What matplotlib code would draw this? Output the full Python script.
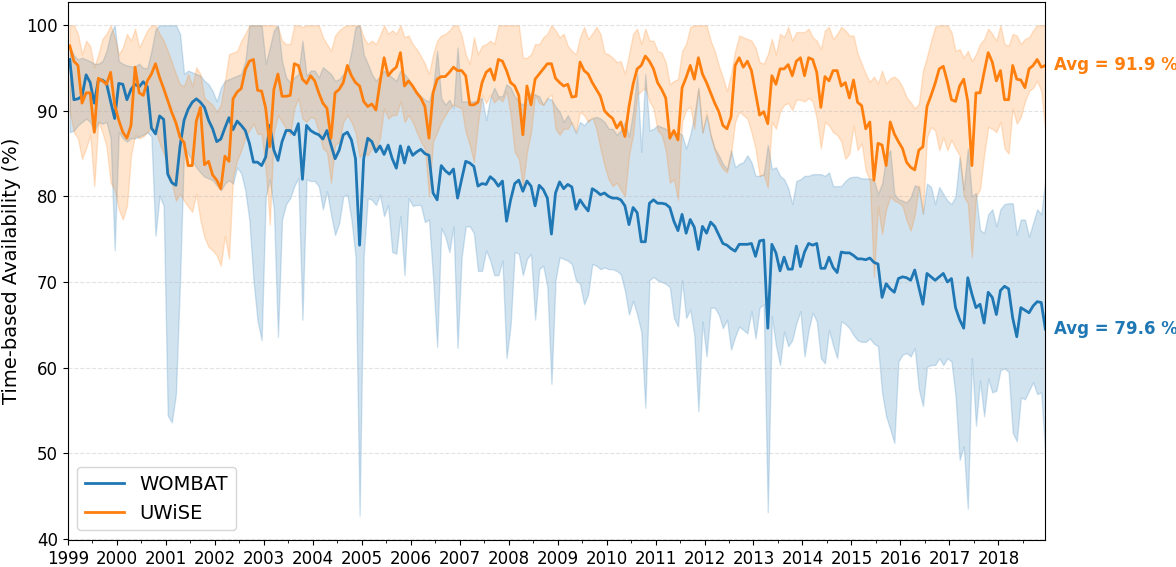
import numpy as np
import matplotlib
matplotlib.use("Agg")
import matplotlib.pyplot as plt
from matplotlib.ticker import MultipleLocator

# Monthly time-based availability (%), Jan 1999 - Dec 2018, one row per year
wombat = [
    96.0, 91.3, 91.4, 91.7, 94.2, 93.3, 90.9, 93.6, 93.6, 93.2, 91.1, 89.1,
    93.2, 93.1, 91.3, 92.5, 93.1, 92.8, 93.4, 92.8, 88.0, 87.3, 89.4, 89.0,
    82.6, 81.6, 81.3, 85.8, 88.9, 90.2, 91.0, 91.4, 91.0, 90.4, 88.9, 87.9,
    86.4, 86.7, 88.0, 89.2, 87.8, 88.8, 88.3, 87.7, 86.2, 84.0, 84.0, 83.6,
    84.6, 88.3, 85.4, 84.2, 86.4, 87.7, 87.7, 87.2, 88.5, 82.0, 88.3, 87.7,
    87.4, 87.2, 86.7, 87.7, 86.0, 84.4, 85.4, 87.2, 87.5, 86.6, 84.4, 74.3,
    84.4, 86.8, 86.4, 85.2, 85.9, 84.9, 86.0, 84.4, 83.3, 85.9, 83.9, 85.8,
    84.8, 85.2, 85.5, 85.0, 84.8, 80.4, 79.6, 83.6, 83.0, 82.6, 83.2, 79.8,
    82.0, 84.1, 83.9, 83.5, 81.2, 81.5, 81.4, 82.3, 81.9, 81.2, 81.8, 77.1,
    79.6, 81.5, 81.9, 80.6, 81.8, 81.2, 78.9, 81.3, 80.8, 79.8, 75.6, 80.4,
    81.7, 80.9, 81.4, 81.1, 78.5, 79.6, 78.9, 78.3, 80.9, 80.6, 80.2, 80.4,
    80.0, 79.8, 79.8, 79.6, 78.9, 76.7, 78.7, 78.1, 74.7, 74.7, 79.2, 79.6,
    79.2, 79.2, 79.1, 78.7, 77.1, 76.0, 77.9, 75.7, 77.3, 76.4, 73.8, 76.5,
    75.7, 77.0, 76.5, 75.5, 74.5, 74.3, 73.9, 73.6, 74.4, 74.4, 74.4, 74.5,
    73.0, 74.8, 74.9, 64.6, 74.4, 73.4, 71.3, 72.9, 71.5, 71.5, 74.2, 71.8,
    73.5, 74.5, 74.3, 74.5, 71.6, 71.6, 72.9, 71.7, 71.1, 73.5, 73.4, 73.4,
    73.1, 72.7, 72.7, 72.6, 72.8, 72.3, 72.1, 68.2, 69.8, 69.2, 68.8, 70.4,
    70.6, 70.5, 70.2, 71.4, 69.4, 67.4, 71.0, 70.6, 70.2, 70.6, 71.0, 70.0,
    70.4, 67.0, 65.6, 64.6, 70.5, 68.6, 67.0, 67.4, 65.2, 68.8, 68.2, 66.2,
    69.0, 69.5, 69.2, 65.8, 63.6, 67.0, 66.7, 66.4, 67.2, 67.7, 67.6, 64.5,
]
wombat_lo = [
    87.5, 87.7, 88.3, 88.7, 89.1, 88.7, 87.5, 88.7, 88.5, 88.7, 86.8, 73.7,
    87.5, 86.8, 86.4, 86.8, 86.8, 87.0, 87.2, 87.5, 87.0, 75.4, 80.1, 78.9,
    54.4, 53.6, 56.9, 70.0, 85.8, 85.0, 84.2, 83.4, 82.8, 82.3, 82.1, 81.9,
    81.3, 80.7, 81.5, 81.9, 81.5, 83.4, 82.7, 80.7, 77.2, 70.2, 65.5, 63.2,
    80.0, 82.0, 78.5, 63.6, 77.3, 79.1, 79.8, 81.2, 82.2, 65.6, 82.0, 81.8,
    81.8, 81.2, 78.5, 80.6, 77.9, 75.5, 76.9, 80.0, 80.2, 77.3, 73.0, 42.7,
    73.0, 79.8, 79.6, 79.0, 80.2, 77.7, 79.0, 73.5, 73.3, 77.7, 70.8, 79.8,
    78.9, 79.0, 79.0, 77.0, 77.3, 70.6, 62.4, 76.3, 75.3, 73.5, 76.5, 62.3,
    72.9, 76.5, 76.5, 75.7, 71.3, 71.3, 73.7, 72.5, 70.8, 70.8, 72.5, 61.1,
    65.0, 73.5, 73.3, 70.8, 72.7, 73.3, 65.6, 71.5, 71.9, 69.4, 58.1, 70.2,
    72.9, 72.7, 72.5, 72.1, 70.2, 69.8, 67.4, 68.6, 72.1, 71.9, 71.5, 71.7,
    71.5, 71.5, 71.3, 70.9, 69.0, 66.2, 67.8, 66.2, 64.2, 55.3, 70.2, 70.6,
    70.2, 70.0, 69.8, 69.4, 65.8, 64.8, 70.2, 65.8, 66.8, 63.8, 54.9, 65.4,
    61.3, 67.0, 67.0, 66.2, 64.6, 65.6, 62.1, 63.6, 64.8, 64.4, 64.0, 66.6,
    63.4, 67.0, 67.4, 43.1, 66.0, 62.6, 60.3, 64.2, 62.5, 63.2, 65.2, 66.6,
    61.3, 64.4, 66.4, 65.4, 61.1, 60.5, 64.4, 62.6, 61.1, 65.4, 65.1, 64.6,
    63.8, 63.2, 63.0, 63.0, 63.4, 62.8, 62.5, 57.1, 54.3, 52.8, 51.2, 60.7,
    61.5, 61.7, 61.3, 62.3, 57.5, 55.5, 60.1, 60.3, 60.3, 61.1, 60.3, 61.1,
    60.7, 56.7, 49.2, 50.8, 43.5, 61.1, 53.2, 58.5, 54.3, 58.7, 57.1, 57.3,
    59.7, 59.9, 59.5, 52.4, 51.4, 56.5, 56.3, 57.3, 58.3, 56.9, 57.1, 49.6,
]
wombat_hi = [
    97.5, 96.5, 96.0, 96.2, 96.0, 95.8, 95.5, 95.5, 95.8, 97.0, 99.0, 100.0,
    95.8, 95.5, 95.3, 95.2, 95.2, 95.5, 95.0, 95.0, 97.0, 99.5, 100.0, 100.0,
    100.0, 100.0, 100.0, 99.0, 94.3, 94.7, 94.5, 94.3, 94.1, 93.5, 93.1, 92.3,
    91.1, 92.7, 93.5, 93.7, 93.9, 94.1, 94.3, 95.8, 100.0, 100.0, 100.0, 100.0,
    95.5, 97.4, 99.4, 100.0, 95.8, 93.9, 93.3, 93.9, 94.3, 98.2, 94.1, 94.7,
    94.7, 93.9, 95.1, 94.7, 94.3, 93.5, 93.7, 94.3, 94.7, 97.0, 99.8, 100.0,
    96.6, 95.5, 94.3, 93.5, 94.1, 94.7, 94.3, 93.9, 93.5, 94.7, 94.3, 93.7,
    92.7, 92.3, 91.7, 91.3, 91.1, 92.7, 97.0, 91.5, 90.7, 91.3, 90.3, 97.4,
    91.1, 91.1, 91.1, 91.1, 91.3, 91.5, 88.9, 91.5, 92.7, 91.7, 91.7, 93.1,
    92.7, 91.7, 91.1, 90.7, 91.5, 92.1, 91.9, 91.7, 90.7, 91.5, 91.3, 90.5,
    89.9, 88.7, 89.5, 88.5, 87.4, 88.7, 88.3, 88.9, 89.1, 89.3, 89.1, 88.7,
    87.9, 87.9, 87.2, 87.7, 88.7, 87.0, 89.9, 94.3, 85.2, 94.3, 87.7, 87.9,
    88.3, 88.1, 87.9, 87.5, 87.2, 87.5, 87.2, 85.6, 87.2, 89.5, 92.7, 87.5,
    89.5, 87.2, 85.6, 84.8, 83.8, 83.2, 85.4, 83.4, 83.8, 84.0, 84.8, 84.0,
    82.4, 82.4, 82.6, 86.0, 83.2, 83.4, 82.4, 82.0, 81.0, 79.1, 81.8, 82.0,
    82.4, 82.4, 82.6, 82.6, 82.6, 82.4, 82.8, 81.2, 81.2, 81.2, 81.8, 82.2,
    82.3, 82.3, 82.1, 82.1, 82.1, 81.9, 80.3, 81.5, 84.6, 85.4, 80.3, 79.7,
    79.5, 79.3, 79.9, 81.3, 81.1, 78.0, 81.5, 81.1, 79.1, 81.1, 80.3, 79.5,
    79.1, 80.0, 84.6, 80.8, 85.6, 80.0, 80.4, 76.1, 75.7, 77.9, 78.5, 76.5,
    78.5, 79.1, 79.2, 79.2, 75.5, 77.3, 77.3, 75.3, 76.9, 78.5, 77.9, 82.0,
]

uwise = [
    97.6, 95.8, 95.3, 90.9, 92.1, 92.1, 87.5, 93.8, 93.5, 93.1, 94.5, 90.7,
    88.9, 87.5, 86.8, 88.3, 95.1, 92.1, 91.8, 93.5, 94.3, 95.5, 93.9, 92.6,
    91.2, 89.8, 88.6, 86.9, 86.3, 83.6, 83.6, 88.8, 90.4, 83.7, 84.1, 82.5,
    81.9, 80.9, 84.7, 84.1, 91.4, 92.2, 92.6, 94.8, 95.8, 96.0, 92.4, 92.3,
    90.3, 85.8, 92.5, 94.3, 91.7, 91.7, 91.8, 95.5, 95.3, 93.7, 93.2, 94.1,
    93.5, 92.1, 90.9, 90.3, 86.8, 92.1, 92.5, 93.3, 95.3, 94.1, 93.3, 92.9,
    91.1, 90.5, 90.8, 90.1, 93.3, 96.2, 94.1, 94.7, 95.1, 96.8, 92.9, 93.5,
    92.9, 92.1, 91.5, 90.5, 86.8, 92.1, 93.7, 94.0, 94.0, 94.5, 95.1, 94.7,
    94.7, 94.1, 90.7, 90.7, 91.0, 93.3, 94.5, 94.9, 93.6, 96.0, 95.8, 94.7,
    93.3, 92.9, 91.8, 87.2, 92.9, 90.7, 93.7, 94.3, 94.9, 95.5, 95.5, 93.8,
    93.3, 92.9, 93.1, 91.6, 91.7, 95.7, 94.7, 94.3, 93.3, 92.5, 91.7, 90.0,
    89.5, 89.1, 88.0, 88.7, 87.0, 90.5, 93.1, 94.9, 95.3, 96.4, 95.8, 94.9,
    93.3, 92.5, 91.5, 86.8, 87.7, 86.6, 92.7, 93.9, 95.3, 93.7, 96.2, 94.3,
    93.3, 92.1, 90.9, 89.9, 88.3, 87.9, 89.3, 95.3, 96.2, 95.1, 95.8, 94.7,
    92.1, 89.5, 89.9, 88.5, 94.1, 93.1, 94.9, 94.9, 95.4, 94.1, 95.8, 96.2,
    94.1, 96.2, 96.0, 94.5, 90.4, 94.0, 93.5, 94.7, 94.7, 92.9, 93.3, 91.5,
    93.6, 91.0, 90.6, 87.9, 88.7, 81.9, 86.2, 86.0, 83.6, 88.7, 87.3, 86.4,
    85.6, 84.0, 83.4, 83.1, 85.4, 85.8, 90.5, 91.8, 93.2, 94.9, 95.2, 93.4,
    91.3, 91.1, 92.9, 93.7, 91.1, 83.6, 92.1, 92.1, 94.5, 96.8, 95.7, 93.5,
    94.7, 91.3, 91.3, 95.3, 93.7, 93.6, 92.7, 94.9, 95.3, 96.0, 95.1, 95.3,
]
uwise_lo = [
    89.9, 87.5, 86.8, 84.4, 85.6, 87.2, 81.2, 88.7, 87.5, 85.8, 81.6, 80.8,
    78.5, 77.3, 78.9, 84.8, 87.2, 86.8, 87.0, 87.5, 88.1, 87.7, 86.2, 85.0,
    83.4, 81.5, 79.5, 80.3, 79.5, 78.8, 78.2, 80.3, 77.2, 75.2, 74.1, 73.7,
    73.1, 71.9, 75.4, 72.7, 82.3, 84.2, 85.4, 86.9, 87.7, 88.5, 87.3, 87.3,
    83.2, 76.7, 87.5, 89.5, 88.7, 87.9, 87.2, 90.3, 91.5, 89.1, 88.7, 89.3,
    89.1, 87.5, 85.6, 85.2, 81.6, 86.0, 86.4, 88.7, 89.5, 88.7, 87.5, 84.6,
    85.2, 84.8, 85.6, 85.6, 86.8, 90.3, 89.1, 89.5, 89.5, 91.1, 88.7, 89.5,
    88.7, 87.5, 86.4, 85.6, 80.0, 86.4, 87.5, 88.7, 89.5, 90.3, 90.7, 90.5,
    90.3, 87.5, 86.0, 84.0, 88.5, 91.9, 90.9, 91.9, 91.0, 91.5, 91.1, 92.3,
    89.5, 85.2, 84.4, 81.2, 85.2, 87.5, 91.9, 90.9, 90.7, 91.5, 91.9, 87.9,
    87.2, 87.9, 87.9, 88.7, 87.5, 89.9, 89.5, 88.7, 89.3, 87.9, 85.6, 83.6,
    82.0, 81.2, 81.6, 80.8, 80.0, 84.8, 87.2, 91.9, 92.3, 92.7, 91.1, 90.3,
    87.7, 87.2, 85.4, 81.6, 82.0, 79.6, 88.7, 90.1, 90.5, 87.9, 92.5, 87.4,
    89.7, 87.0, 85.4, 84.0, 83.2, 82.8, 84.9, 88.7, 89.9, 89.5, 89.1, 87.5,
    85.6, 82.4, 82.6, 81.0, 88.7, 87.9, 89.9, 90.7, 90.9, 90.1, 91.3, 91.3,
    91.1, 91.5, 91.1, 89.1, 85.6, 88.7, 88.3, 87.5, 87.2, 86.4, 84.4, 85.0,
    88.3, 85.4, 86.2, 83.0, 81.9, 70.6, 78.8, 75.6, 78.5, 80.0, 79.5, 79.3,
    78.9, 77.2, 76.0, 77.8, 81.3, 78.0, 86.9, 88.1, 87.7, 85.4, 86.9, 85.4,
    86.6, 85.6, 84.8, 80.0, 79.2, 72.9, 80.0, 80.8, 84.8, 88.1, 87.9, 87.5,
    88.7, 85.6, 85.0, 90.3, 88.5, 89.3, 91.1, 92.3, 92.7, 93.5, 92.3, 87.5,
]
uwise_hi = [
    100.0, 100.0, 99.0, 96.6, 98.2, 97.6, 95.1, 96.6, 98.4, 99.0, 100.0, 98.6,
    96.6, 97.4, 99.0, 98.2, 99.6, 97.4, 98.4, 99.4, 100.0, 100.0, 99.0, 98.2,
    97.0, 95.7, 94.3, 93.1, 92.9, 94.3, 92.9, 95.1, 94.3, 91.5, 91.1, 90.7,
    89.9, 90.7, 93.5, 96.6, 96.8, 97.0, 98.2, 99.0, 100.0, 100.0, 100.0, 100.0,
    100.0, 100.0, 100.0, 99.8, 98.2, 97.8, 97.8, 100.0, 100.0, 99.8, 100.0, 100.0,
    100.0, 100.0, 98.6, 97.8, 97.0, 98.8, 99.4, 99.8, 100.0, 100.0, 100.0, 100.0,
    98.6, 97.8, 98.2, 97.8, 98.8, 100.0, 99.0, 99.4, 99.0, 100.0, 98.6, 98.8,
    97.8, 97.2, 96.4, 95.5, 94.3, 96.6, 98.2, 98.8, 99.0, 99.4, 100.0, 100.0,
    98.8, 96.6, 95.5, 98.6, 96.6, 97.6, 97.8, 98.2, 97.8, 100.0, 100.0, 100.0,
    100.0, 100.0, 100.0, 96.2, 96.2, 96.6, 97.8, 97.8, 98.6, 99.0, 100.0, 99.4,
    98.6, 99.0, 97.6, 97.0, 96.6, 98.6, 99.8, 98.4, 99.0, 99.8, 99.0, 96.8,
    96.6, 96.2, 95.7, 95.8, 94.3, 96.6, 99.0, 99.6, 97.8, 99.6, 98.2, 98.2,
    97.0, 96.8, 95.7, 93.1, 93.5, 93.7, 97.0, 97.8, 99.8, 100.0, 100.0, 100.0,
    100.0, 98.2, 97.0, 95.3, 93.9, 92.3, 94.3, 97.0, 98.8, 98.6, 98.4, 98.2,
    97.4, 95.7, 95.5, 96.6, 98.4, 96.6, 99.0, 98.6, 99.8, 98.2, 99.2, 99.2,
    99.2, 99.6, 98.6, 98.2, 97.2, 99.4, 99.8, 98.4, 99.0, 99.8, 99.4, 98.8,
    98.8, 96.7, 95.5, 94.3, 93.4, 94.0, 93.2, 94.7, 93.2, 93.8, 94.0, 93.6,
    92.8, 91.6, 91.0, 90.3, 90.8, 94.7, 96.3, 98.2, 99.8, 100.0, 100.0, 100.0,
    99.2, 97.0, 97.2, 96.2, 97.0, 95.8, 96.6, 97.8, 98.4, 99.6, 99.0, 98.2,
    100.0, 97.8, 97.6, 99.0, 98.8, 97.8, 98.4, 98.6, 99.4, 100.0, 100.0, 100.0,
]

avg_labels = {"WOMBAT": "Avg = 79.6 %", "UWiSE": "Avg = 91.9 %"}

years = np.arange(1999, 2019)
# mid-month positions in decimal years
t = 1999 + (np.arange(len(wombat)) + 0.5) / 12

fig = plt.figure(figsize=(11.76, 5.67), dpi=100)
ax = fig.add_axes([0.0576, 0.0476, 0.8313, 0.9494])

ax.fill_between(t, wombat_lo, wombat_hi, color="tab:blue", alpha=0.2)
ax.fill_between(t, uwise_lo, uwise_hi, color="tab:orange", alpha=0.2)
ax.plot(t, wombat, color="tab:blue", lw=2, label="WOMBAT")
ax.plot(t, uwise, color="tab:orange", lw=2, label="UWiSE")

# average labels just right of the last point
ax.annotate(avg_labels["UWiSE"], xy=(t[-1], uwise[-1]), xytext=(6, 0),
            textcoords="offset points", color="tab:orange", fontsize=12,
            fontweight="bold", va="center", annotation_clip=False)
ax.annotate(avg_labels["WOMBAT"], xy=(t[-1], wombat[-1]), xytext=(6, 0),
            textcoords="offset points", color="tab:blue", fontsize=12,
            fontweight="bold", va="center", annotation_clip=False)

ax.set_xlim(1999, t[-1])
ax.set_ylim(39.85, 102.75)
ax.set_xticks(years)
ax.set_xticklabels([str(y) for y in years])
ax.xaxis.set_minor_locator(MultipleLocator(0.5))
ax.set_yticks(np.arange(40, 101, 10))
ax.tick_params(labelsize=12)
ax.grid(axis="y", linestyle="--", linewidth=0.8, alpha=0.35)
ax.set_ylabel("Time-based Availability (%)", fontsize=14)
ax.legend(loc="lower left", fontsize=14)

fig.savefig("out.png", dpi=100)
